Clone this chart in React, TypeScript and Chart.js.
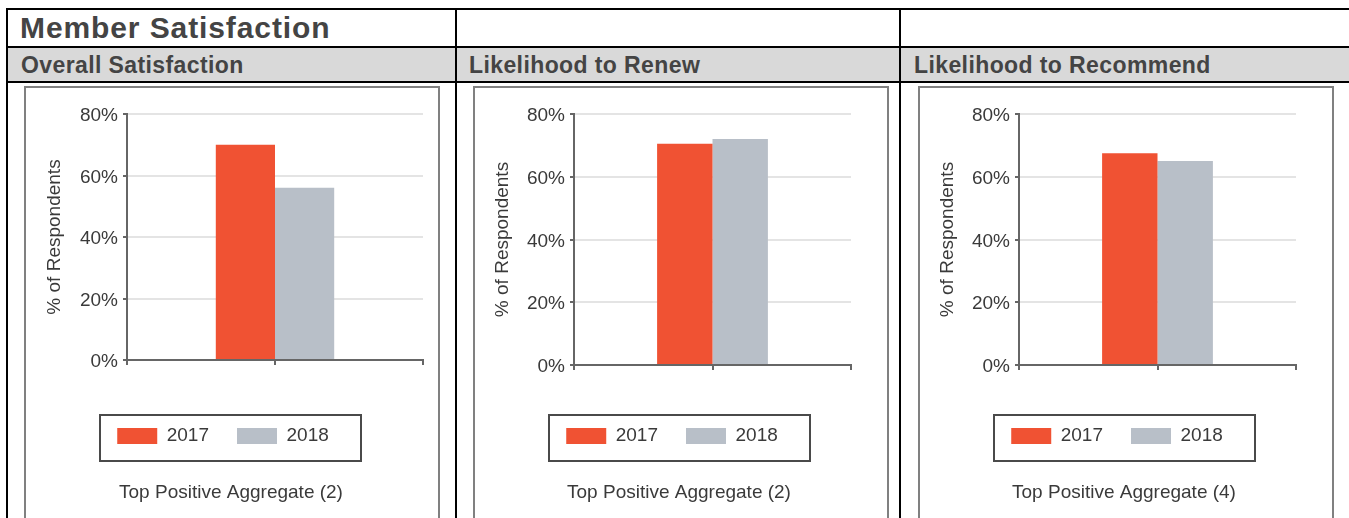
import React, { useEffect, useRef } from 'react';
import { Chart, registerables } from 'chart.js';

Chart.register(...registerables);

// ---------- data ----------
const reportTitle = 'Member Satisfaction';
const panelTitles = ['Overall Satisfaction', 'Likelihood to Renew', 'Likelihood to Recommend'];
const categoryLabels = ['Top Positive Aggregate (2)', 'Top Positive Aggregate (2)', 'Top Positive Aggregate (4)'];
const seriesNames = ['2017', '2018'];
const values2017 = [70, 70.5, 67.5];
const values2018 = [56, 72, 65];
const yTickValues = [0, 20, 40, 60, 80];
const yAxisTitle = '% of Respondents';

// ---------- styles ----------
const FONT = "'Liberation Sans', Arial, Helvetica, sans-serif";
const COLOR_2017 = '#F05233';
const COLOR_2018 = '#B8BFC8';
const TEXT = '#3a3a3a';
const AXIS = '#666666';
const GRID = '#e4e4e4';
const FS = 19;

const CANVAS_W = 414;
const CANVAS_H = 431;
const PAD_TOP = 27;
const LEGEND_TOP = 311.5;
const LEGEND_PAD = 28;
const TITLE_PAD_TOP = 26.1;
const PAD_BOTTOM = CANVAS_H - (LEGEND_TOP + FS + LEGEND_PAD + 10 + FS * 1.2 + TITLE_PAD_TOP);
// x-axis carries tick marks at the category edges too (half-category spacing),
// so the bar sample size Chart.js sees is half the category width.
const CATEGORY_PCT = 0.8;

const panelLayouts = [
  { boxLeft: 24, axisX: 102, plotRight: 398, plotBottom: 273, yTitleCenter: 29, legendCenter: 198, footerCenter: 206 },
  { boxLeft: 473, axisX: 100, plotRight: 377, plotBottom: 278, yTitleCenter: 28, legendCenter: 198, footerCenter: 205 },
  { boxLeft: 918, axisX: 100, plotRight: 377, plotBottom: 278, yTitleCenter: 28, legendCenter: 198, footerCenter: 205 },
];

Chart.defaults.font.family = FONT;
Chart.defaults.font.size = FS;
Chart.defaults.color = TEXT;

const panelLayoutPlugin = {
  id: 'panelLayout',
  afterLayout(chart: any, _args: any, opts: any) {
    const move = (box: any, center: number) => {
      if (!box || center == null) return;
      const dx = center - (box.left + box.right) / 2;
      box.left += dx;
      box.right += dx;
    };
    move(chart.legend, opts.legendCenter);
    move(chart.titleBlock, opts.footerCenter);
  },
  afterDraw(chart: any) {
    const hb = chart.legend && chart.legend.legendHitBoxes;
    if (!hb || !hb.length) return;
    const first = hb[0];
    const last = hb[hb.length - 1];
    const left = Math.round(first.left) - 18;
    const right = Math.round(last.left + last.width) + 33;
    const top = first.top - 12.5;
    const bottom = first.top + 35.5;
    const ctx = chart.ctx;
    ctx.save();
    ctx.strokeStyle = '#4a4a4a';
    ctx.lineWidth = 2;
    ctx.strokeRect(left + 1, top + 1, right - left - 2, bottom - top - 2);
    ctx.restore();
  },
};

function Panel({ index }: { index: number }) {
  const ref = useRef<HTMLCanvasElement | null>(null);
  const L = panelLayouts[index];
  useEffect(() => {
    if (!ref.current) return;
    const chart = new Chart(ref.current, {
      type: 'bar',
      data: {
        labels: [categoryLabels[index]],
        datasets: [
          { label: seriesNames[0], data: [values2017[index]], backgroundColor: COLOR_2017, borderWidth: 0, categoryPercentage: CATEGORY_PCT, barPercentage: 1 },
          { label: seriesNames[1], data: [values2018[index]], backgroundColor: COLOR_2018, borderWidth: 0, categoryPercentage: CATEGORY_PCT, barPercentage: 1 },
        ],
      },
      options: {
        responsive: false,
        animation: false,
        devicePixelRatio: 1,
        events: [],
        layout: { padding: { left: 0, top: PAD_TOP, right: CANVAS_W - L.plotRight, bottom: PAD_BOTTOM } },
        scales: {
          x: {
            type: 'category',
            offset: true,
            grid: { display: true, drawOnChartArea: false, drawTicks: true, tickLength: 5, tickWidth: 2, tickColor: AXIS, color: AXIS, lineWidth: 2, offset: false },
            border: { display: true, color: AXIS, width: 2, z: 1 },
            ticks: { display: true, autoSkip: false, maxRotation: 0, padding: 0, callback: () => '' },
            afterBuildTicks: (s: any) => { s.ticks = [-0.5, 0, 0.5].map((value) => ({ value })); },
            afterFit: (s: any) => { s.height = LEGEND_TOP - L.plotBottom; },
          },
          y: {
            type: 'linear',
            min: yTickValues[0],
            max: yTickValues[yTickValues.length - 1],
            ticks: { stepSize: 20, padding: 5, labelOffset: 2, color: TEXT, font: { size: FS }, callback: (v: any) => `${v}%` },
            afterBuildTicks: (s: any) => { s.ticks = yTickValues.map((value) => ({ value })); },
            grid: { color: GRID, lineWidth: 2, drawTicks: true, tickLength: 4, tickWidth: 2, tickColor: AXIS },
            border: { display: true, color: AXIS, width: 2, z: 1 },
            title: { display: true, text: yAxisTitle, color: TEXT, font: { size: FS }, padding: { top: L.yTitleCenter - FS * 0.6 + 1, bottom: 0 } },
            afterFit: (s: any) => { s.width = L.axisX; },
          },
        },
        plugins: {
          legend: {
            display: true,
            position: 'bottom',
            labels: { boxWidth: 40, boxHeight: 16, padding: LEGEND_PAD, color: TEXT, font: { size: FS } },
          },
          title: {
            display: true,
            position: 'bottom',
            text: categoryLabels[index],
            color: TEXT,
            font: { size: FS, weight: 'normal' },
            padding: { top: TITLE_PAD_TOP, bottom: 0 },
          },
          tooltip: { enabled: false },
          panelLayout: { legendCenter: L.legendCenter, footerCenter: L.footerCenter },
        } as any,
      },
      plugins: [panelLayoutPlugin as any],
    } as any);
    return () => chart.destroy();
  }, [index]);

  return (
    <>
      <div
        style={{
          position: 'absolute', left: L.boxLeft, top: 86, width: 416, height: 432,
          boxSizing: 'border-box', border: '2px solid #808080', borderBottom: 'none', background: '#fff',
        }}
      />
      <canvas
        ref={ref}
        width={CANVAS_W}
        height={CANVAS_H}
        style={{ position: 'absolute', left: L.boxLeft + 1, top: 87, width: CANVAS_W, height: CANVAS_H }}
      />
    </>
  );
}

const line = (left: number, top: number, width: number, height: number) => (
  <div style={{ position: 'absolute', left, top, width, height, background: '#000' }} />
);

const headerLefts = [21, 469, 914];

export default function App() {
  return (
    <div style={{ position: 'absolute', left: 0, top: 0, width: 1349, height: 518, overflow: 'hidden', background: '#fff', fontFamily: FONT }}>
      <div style={{ position: 'absolute', left: 8, top: 48, width: 1341, height: 33, background: '#d9d9d9' }} />
      {line(6, 8, 1343, 2)}
      {line(6, 46, 1343, 2)}
      {line(6, 81, 1343, 2)}
      {line(6, 8, 2, 510)}
      {line(455, 8, 2, 510)}
      {line(899, 8, 2, 510)}
      <div style={{ position: 'absolute', left: 20, top: 13, fontSize: 30, lineHeight: '30px', fontWeight: 'bold', letterSpacing: '0.9px', color: '#444', whiteSpace: 'nowrap' }}>
        {reportTitle}
      </div>
      {panelTitles.map((t, i) => (
        <div key={t} style={{ position: 'absolute', left: headerLefts[i], top: 54, fontSize: 23, lineHeight: '23px', fontWeight: 'bold', letterSpacing: '0.4px', color: '#444', whiteSpace: 'nowrap' }}>
          {t}
        </div>
      ))}
      {panelTitles.map((t, i) => (
        <Panel key={t} index={i} />
      ))}
    </div>
  );
}
